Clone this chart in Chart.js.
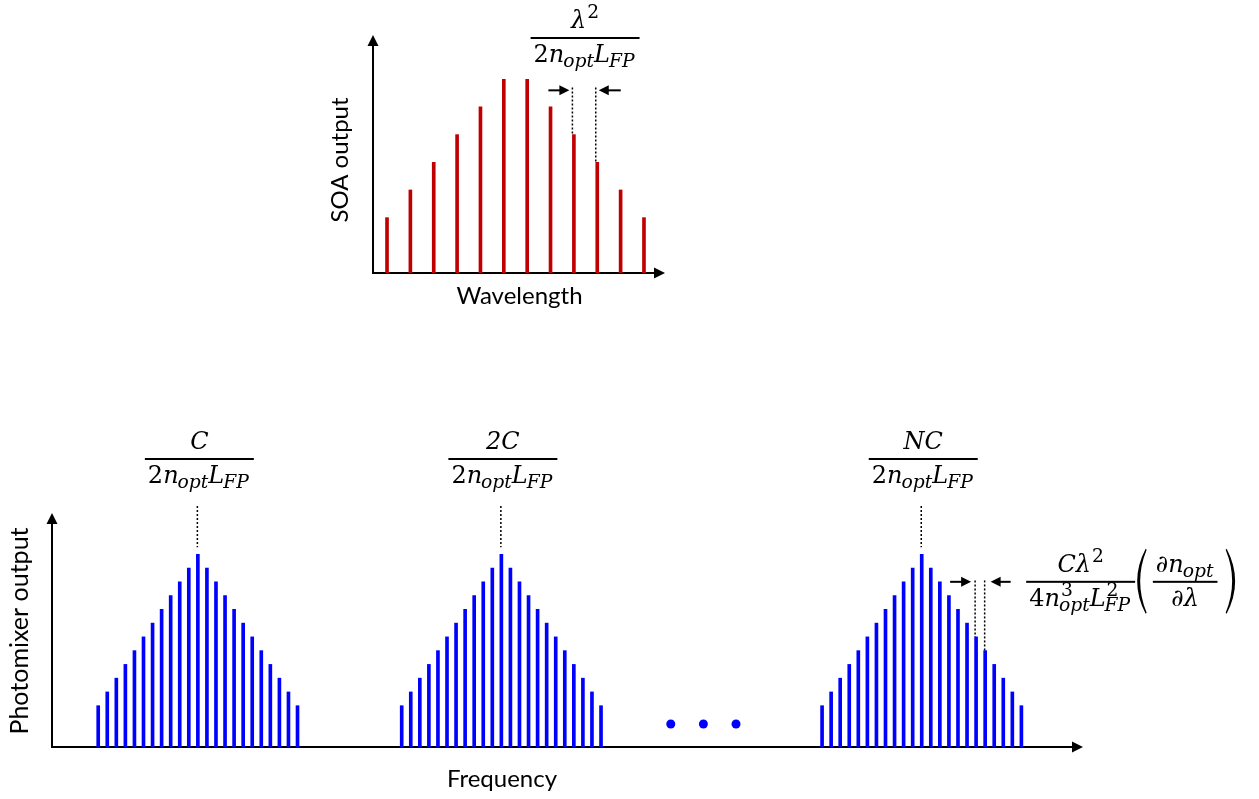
<!DOCTYPE html>
<html>
<head>
<meta charset="utf-8">
<script src="https://cdn.jsdelivr.net/npm/chart.js@4.4.1/dist/chart.umd.min.js"></script>
<style>
  body { margin: 0; background: #fff; }
  #wrap { position: relative; width: 1259px; height: 799px; }
  canvas { position: absolute; }
  #soaChart { left: 300px; top: 0; }
  #pmChart { left: 0; top: 380px; }
</style>
</head>
<body>
<div id="wrap">
  <canvas id="soaChart" width="420" height="330"></canvas>
  <canvas id="pmChart" width="1259" height="419"></canvas>
</div>
<script>
// top plot: longitudinal modes at the SOA output
const wavelengths = [1, 2, 3, 4, 5, 6, 7, 8, 9, 10, 11, 12];
const soaOutput = [2, 3, 4, 5, 6, 7, 7, 6, 5, 4, 3, 2];

// bottom plot: beat-note combs at the photomixer
const combOffsets = [-11, -10, -9, -8, -7, -6, -5, -4, -3, -2, -1, 0, 1, 2, 3, 4, 5, 6, 7, 8, 9, 10, 11];
const combHeights = [3, 4, 5, 6, 7, 8, 9, 10, 11, 12, 13, 14, 13, 12, 11, 10, 9, 8, 7, 6, 5, 4, 3];
const groupCenters = [16.1, 49.6, 96];
const groupNumerators = ['C', '2C', 'NC'];
const dotsX = [68.3, 71.9, 75.5];
const dotsY = [1.67, 1.67, 1.67];

const LABEL_FONT = '"Lato", "Open Sans", sans-serif';
const MATH_FONT = '"DejaVu Serif", serif';

// ---- small helpers for drawing ----
function arrowLine(ctx, x1, y1, x2, y2, head) {
  const a = Math.atan2(y2 - y1, x2 - x1);
  ctx.beginPath();
  ctx.moveTo(x1, y1);
  ctx.lineTo(x2 - Math.cos(a) * head * 0.6, y2 - Math.sin(a) * head * 0.6);
  ctx.stroke();
  ctx.beginPath();
  ctx.moveTo(x2, y2);
  ctx.lineTo(x2 - head * Math.cos(a) + head * 0.5 * Math.sin(a), y2 - head * Math.sin(a) - head * 0.5 * Math.cos(a));
  ctx.lineTo(x2 - head * Math.cos(a) - head * 0.5 * Math.sin(a), y2 - head * Math.sin(a) + head * 0.5 * Math.cos(a));
  ctx.closePath();
  ctx.fill();
}

function dotted(ctx, x, y1, y2) {
  ctx.save();
  ctx.lineWidth = 1.5;
  ctx.setLineDash([2, 2]);
  ctx.beginPath();
  ctx.moveTo(x, y1);
  ctx.lineTo(x, y2);
  ctx.stroke();
  ctx.restore();
}

function drawAxes(chart) {
  const { ctx, chartArea: a } = chart;
  ctx.save();
  ctx.strokeStyle = '#000';
  ctx.fillStyle = '#000';
  ctx.lineWidth = 2;
  arrowLine(ctx, a.left, a.bottom, a.left, a.top, 11);
  arrowLine(ctx, a.left - 1, a.bottom, a.right, a.bottom, 11);
  ctx.restore();
}

// math text: tokens are 'x' or [base, sub, sup]
const SUB = 0.78;
function isItalic(s) { return /[A-Za-zλ]/.test(s); }
function setMathFont(ctx, s, size) {
  ctx.font = (isItalic(s) ? 'italic ' : '') + size + 'px ' + MATH_FONT;
}
function tokWidth(ctx, tok, size) {
  const [b, sub, sup] = Array.isArray(tok) ? tok : [tok];
  setMathFont(ctx, b, size);
  let w = ctx.measureText(b).width;
  let extra = 0;
  const ss = size * SUB;
  if (sub) { setMathFont(ctx, sub, ss); extra = Math.max(extra, ctx.measureText(sub).width); }
  if (sup) { setMathFont(ctx, sup, ss); extra = Math.max(extra, ctx.measureText(sup).width + 1); }
  return w + extra;
}
function rowWidth(ctx, row, size) {
  return row.reduce((s, t) => s + tokWidth(ctx, t, size), 0);
}
function drawRow(ctx, row, x, y, size) {
  ctx.textAlign = 'left';
  ctx.textBaseline = 'alphabetic';
  const ss = size * SUB;
  for (const tok of row) {
    const [b, sub, sup] = Array.isArray(tok) ? tok : [tok];
    setMathFont(ctx, b, size);
    ctx.fillText(b, x, y);
    const w = ctx.measureText(b).width;
    let extra = 0;
    if (sub) {
      setMathFont(ctx, sub, ss);
      ctx.fillText(sub, x + w - 1, y + size * 0.2);
      extra = Math.max(extra, ctx.measureText(sub).width - 1);
    }
    if (sup) {
      setMathFont(ctx, sup, ss);
      ctx.fillText(sup, x + w + 1, y - size * 0.4);
      extra = Math.max(extra, ctx.measureText(sup).width + 1);
    }
    x += w + extra;
  }
}
function drawFrac(ctx, num, den, cx, barY, size) {
  const wn = rowWidth(ctx, num, size);
  const wd = rowWidth(ctx, den, size);
  const w = Math.max(wn, wd) + 6;
  ctx.fillStyle = '#000';
  ctx.fillRect(cx - w / 2, barY - 1, w, 2);
  drawRow(ctx, num, cx - wn / 2, barY - size * 0.42, size);
  drawRow(ctx, den, cx - wd / 2, barY + size * 1.0, size);
  return w;
}
function paren(ctx, x, top, bottom, dir) {
  const mid = (top + bottom) / 2;
  ctx.save();
  ctx.beginPath();
  ctx.moveTo(x, top);
  ctx.quadraticCurveTo(x - dir * 17, mid, x, bottom);
  ctx.lineTo(x + dir * 1, bottom - 1);
  ctx.quadraticCurveTo(x - dir * 12, mid, x + dir * 1, top + 1);
  ctx.closePath();
  ctx.fill();
  ctx.restore();
}

const denom = ['2', ['n', 'opt'], ['L', 'FP']];

// ---- top chart ----
const soaDecor = {
  id: 'soaDecor',
  beforeDatasetsDraw(chart) { drawAxes(chart); },
  afterDraw(chart) {
    const { ctx, chartArea: a, scales: { x, y } } = chart;
    ctx.save();
    ctx.fillStyle = '#000';
    ctx.strokeStyle = '#000';
    // axis titles
    ctx.font = '24px ' + LABEL_FONT;
    ctx.textAlign = 'center';
    ctx.textBaseline = 'alphabetic';
    ctx.fillText('Wavelength', (a.left + a.right) / 2 + 0.5, a.bottom + 31);
    ctx.save();
    ctx.translate(a.left - 33, (a.top + a.bottom) / 2 + 6);
    ctx.rotate(-Math.PI / 2);
    ctx.textBaseline = 'middle';
    ctx.fillText('SOA output', 0, 0);
    ctx.restore();
    // mode spacing marker between modes 9 and 10
    const i1 = 8, i2 = 9;
    const x1 = x.getPixelForValue(wavelengths[i1]) - 1.5;
    const x2 = x.getPixelForValue(wavelengths[i2]) - 1.5;
    const yTop = y.getPixelForValue(6.7);
    dotted(ctx, x1, yTop, y.getPixelForValue(soaOutput[i1]));
    dotted(ctx, x2, yTop, y.getPixelForValue(soaOutput[i2]));
    ctx.lineWidth = 2;
    const ya = y.getPixelForValue(6.6);
    arrowLine(ctx, x1 - 24, ya, x1 - 3, ya, 10);
    arrowLine(ctx, x2 + 25, ya, x2 + 3, ya, 10);
    drawFrac(ctx, [['λ', null, '2']], denom, (x1 + x2) / 2 + 1, a.top + 3, 24);
    ctx.restore();
  }
};

new Chart(document.getElementById('soaChart'), {
  type: 'bar',
  data: {
    datasets: [{
      data: wavelengths.map((w, i) => ({ x: w, y: soaOutput[i] })),
      backgroundColor: '#C00000',
      borderWidth: 0,
      barThickness: 3
    }]
  },
  options: {
    responsive: false,
    animation: false,
    devicePixelRatio: 1,
    layout: { padding: { left: 73, right: 55, top: 35, bottom: 57 } },
    plugins: { legend: { display: false }, tooltip: { enabled: false } },
    scales: {
      x: { type: 'linear', min: 0.4, max: 12.9, offset: false, display: false },
      y: { min: 0, max: 8.6, display: false }
    }
  },
  plugins: [soaDecor]
});

// ---- bottom chart ----
const combData = [];
groupCenters.forEach(c => {
  combOffsets.forEach((o, i) => combData.push({ x: c + o, y: combHeights[i] }));
});

const pmDecor = {
  id: 'pmDecor',
  beforeDatasetsDraw(chart) { drawAxes(chart); },
  afterDraw(chart) {
    const { ctx, chartArea: a, scales: { x, y } } = chart;
    ctx.save();
    ctx.fillStyle = '#000';
    ctx.strokeStyle = '#000';
    ctx.font = '24px ' + LABEL_FONT;
    ctx.textAlign = 'center';
    ctx.textBaseline = 'alphabetic';
    ctx.fillText('Frequency', 502, a.bottom + 40);
    ctx.save();
    ctx.font = '25px ' + LABEL_FONT;
    ctx.translate(a.left - 32, (a.top + a.bottom) / 2 + 1);
    ctx.rotate(-Math.PI / 2);
    ctx.textBaseline = 'middle';
    ctx.fillText('Photomixer output', 0, 0);
    ctx.restore();

    const peak = Math.max(...combHeights);
    groupCenters.forEach((c, g) => {
      const px = x.getPixelForValue(c) - 0.5;
      dotted(ctx, px, a.top - 7, y.getPixelForValue(peak) - 7);
      drawFrac(ctx, [groupNumerators[g]], denom, px + 2, a.top - 54, 24);
    });

    // spacing between neighbouring beat notes in the last comb
    const c3 = groupCenters[2];
    const k1 = combOffsets.indexOf(6), k2 = combOffsets.indexOf(7);
    const bx1 = x.getPixelForValue(c3 + combOffsets[k1]) - 1;
    const bx2 = x.getPixelForValue(c3 + combOffsets[k2]) - 0.5;
    const yTop = y.getPixelForValue(12.1);
    dotted(ctx, bx1, yTop, y.getPixelForValue(combHeights[k1]));
    dotted(ctx, bx2, yTop, y.getPixelForValue(combHeights[k2]));
    ctx.lineWidth = 2;
    const ya = y.getPixelForValue(12.0);
    arrowLine(ctx, bx1 - 25, ya, bx1 - 4, ya, 10);
    arrowLine(ctx, bx2 + 26, ya, bx2 + 6, ya, 10);

    const fx = bx2 + 96;
    const barY = ya;
    drawFrac(ctx, ['C', ['λ', null, '2']], ['4', ['n', 'opt', '3'], ['L', 'FP', '2']], fx, barY, 24);
    const pl = fx + 65, pr = fx + 146;
    paren(ctx, pl, barY - 33, barY + 32, 1);
    paren(ctx, pr, barY - 33, barY + 32, -1);
    drawFrac(ctx, ['∂', ['n', 'opt']], ['∂', 'λ'], (pl + pr) / 2 - 1, barY, 24);
    ctx.restore();
  }
};

new Chart(document.getElementById('pmChart'), {
  type: 'bar',
  data: {
    datasets: [{
      type: 'bar',
      data: combData,
      backgroundColor: '#0000FF',
      borderWidth: 0,
      barThickness: 3
    }, {
      type: 'scatter',
      data: dotsX.map((v, i) => ({ x: v, y: dotsY[i] })),
      backgroundColor: '#0000FF',
      borderWidth: 0,
      pointRadius: 4.5
    }]
  },
  options: {
    responsive: false,
    animation: false,
    devicePixelRatio: 1,
    layout: { padding: { left: 52, right: 176, top: 133, bottom: 52 } },
    plugins: { legend: { display: false }, tooltip: { enabled: false } },
    scales: {
      x: { type: 'linear', min: 0, max: 113.8, offset: false, display: false },
      y: { min: 0, max: 17, display: false }
    }
  },
  plugins: [pmDecor]
});
</script>
</body>
</html>
